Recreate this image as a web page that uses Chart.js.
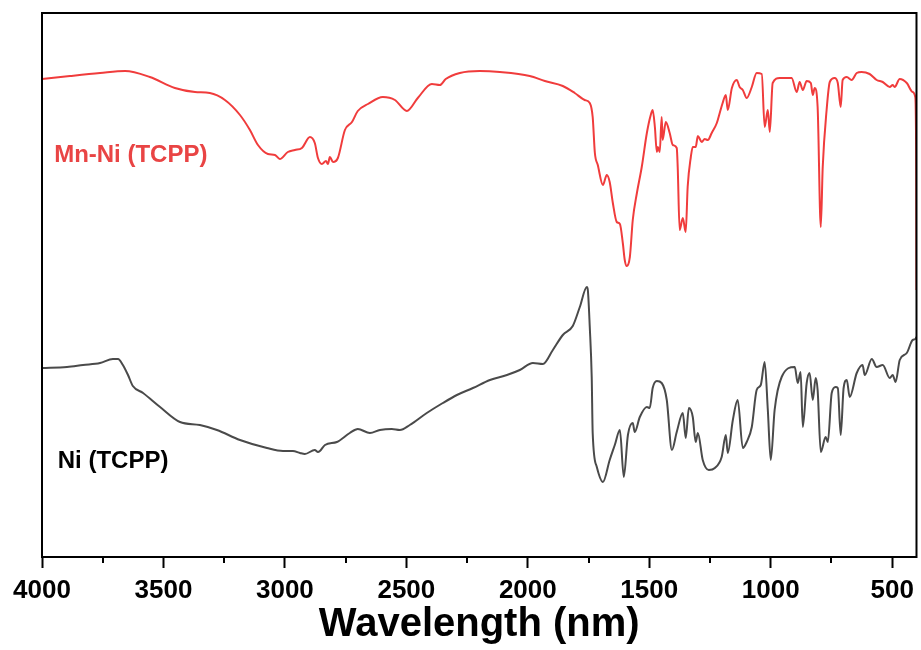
<!DOCTYPE html>
<html lang="en">
<head>
    <meta charset="UTF-8">
    <title>FTIR spectra</title>
    <style>
        html, body { margin: 0; padding: 0; background: #fff; }
        #wrap { width: 921px; height: 650px; }
    </style>
</head>
<body>
    <div id="wrap">
        <canvas id="ftirChart" width="921" height="650"></canvas>
    </div>

    <script src="https://cdn.jsdelivr.net/npm/chart.js@4/dist/chart.umd.min.js"></script>
    <script>
        // wavenumbers (x) and transmittance (a.u.)
        const mnNiX = [4000, 3885, 3761, 3658, 3556, 3453, 3370, 3309, 3247, 3185, 3144, 3111, 3070, 3041, 3021, 2988, 2959, 2930, 2897, 2877, 2864, 2848, 2831, 2823, 2815, 2802, 2782, 2753, 2724, 2700, 2658, 2597, 2547, 2498, 2453, 2395, 2362, 2338, 2280, 2198, 2115, 1992, 1930, 1856, 1807, 1766, 1745, 1733, 1724, 1712, 1691, 1675, 1663, 1650, 1634, 1621, 1609, 1601, 1593, 1580, 1568, 1551, 1531, 1510, 1494, 1486, 1477, 1469, 1465, 1457, 1449, 1445, 1432, 1416, 1403, 1387, 1383, 1375, 1362, 1350, 1342, 1329, 1321, 1309, 1300, 1284, 1272, 1259, 1243, 1222, 1210, 1198, 1185, 1177, 1160, 1140, 1128, 1115, 1099, 1078, 1058, 1037, 1025, 1012, 1004, 992, 963, 914, 893, 881, 868, 852, 835, 827, 819, 807, 794, 786, 770, 757, 737, 724, 712, 704, 687, 667, 646, 626, 593, 564, 539, 510, 498, 490, 469, 440, 416, 405, 401, 400];
        const mnNiY = [478, 481, 484, 486, 480, 469, 465, 464, 457, 442, 427, 412, 403, 402, 398, 405, 407, 409, 420, 414, 399, 393, 396, 393, 400, 395, 399, 427, 435, 446, 453, 460, 457, 446, 459, 473, 472, 478, 484, 486, 485, 481, 476, 471, 464, 457, 454, 440, 404, 392, 372, 382, 375, 354, 335, 333, 314, 297, 291, 300, 337, 364, 390, 424, 442, 447, 430, 405, 410, 405, 440, 417, 435, 424, 412, 409, 390, 327, 339, 325, 370, 400, 410, 410, 421, 415, 418, 417, 424, 434, 444, 454, 462, 447, 469, 477, 470, 467, 459, 470, 484, 483, 430, 447, 425, 474, 479, 479, 465, 475, 467, 476, 474, 462, 469, 450, 330, 390, 447, 475, 479, 474, 450, 477, 480, 477, 484, 485, 483, 477, 475, 470, 472, 470, 478, 474, 465, 460, 380, 267];

        const niX = [4000, 3897, 3831, 3761, 3708, 3687, 3667, 3646, 3626, 3584, 3514, 3432, 3350, 3280, 3185, 3074, 3008, 2967, 2938, 2918, 2877, 2864, 2856, 2835, 2786, 2733, 2700, 2650, 2609, 2560, 2527, 2486, 2416, 2350, 2292, 2226, 2156, 2086, 2033, 1979, 1938, 1897, 1856, 1815, 1786, 1757, 1753, 1745, 1737, 1733, 1716, 1691, 1663, 1642, 1621, 1605, 1588, 1568, 1560, 1539, 1510, 1498, 1486, 1469, 1449, 1428, 1407, 1387, 1362, 1350, 1337, 1321, 1309, 1300, 1280, 1255, 1230, 1202, 1185, 1177, 1156, 1136, 1115, 1099, 1078, 1058, 1041, 1025, 1012, 1000, 984, 955, 901, 889, 877, 868, 852, 840, 827, 815, 807, 794, 774, 765, 749, 733, 724, 712, 700, 687, 675, 646, 622, 613, 584, 564, 539, 510, 498, 486, 469, 440, 416, 405, 400];
        const niY = [189, 190, 192, 194, 198, 198, 192, 182, 171, 164, 150, 135, 132, 127, 117, 109, 106, 106, 104, 103, 107, 105, 106, 112, 115, 124, 128, 124, 127, 128, 127, 132, 144, 154, 162, 169, 177, 182, 187, 194, 193, 207, 222, 231, 250, 270, 267, 230, 180, 124, 90, 75, 97, 112, 127, 80, 122, 134, 125, 140, 150, 149, 169, 176, 174, 157, 107, 125, 144, 119, 149, 140, 115, 124, 97, 87, 89, 100, 122, 104, 137, 157, 109, 115, 130, 167, 172, 195, 147, 97, 147, 180, 190, 174, 185, 130, 174, 184, 157, 179, 167, 105, 120, 115, 164, 170, 169, 122, 169, 177, 160, 184, 192, 182, 198, 190, 192, 179, 182, 175, 197, 204, 217, 218, 220];

        const majorTicks = [4000, 3500, 3000, 2500, 2000, 1500, 1000, 500];
        const minorTicks = [3750, 3250, 2750, 2250, 1750, 1250, 750];

        const seriesNames = ['Mn-Ni (TCPP)', 'Ni (TCPP)'];

        function toPoints(xs, ys) {
            return xs.map((x, i) => ({ x: x, y: ys[i] }));
        }

        // frame, minor ticks and in-plot labels
        const decorPlugin = {
            id: 'decor',
            afterDatasetsDraw(chart) {
                const { ctx, chartArea: a, scales: { x, y } } = chart;
                ctx.save();
                ctx.strokeStyle = '#000';
                ctx.lineWidth = 2;
                ctx.strokeRect(a.left, a.top, a.right - a.left, a.bottom - a.top);

                minorTicks.forEach(v => {
                    const px = Math.round(x.getPixelForValue(v));
                    ctx.beginPath();
                    ctx.moveTo(px, a.bottom);
                    ctx.lineTo(px, a.bottom + 6);
                    ctx.stroke();
                });

                ctx.font = 'bold 24px "Liberation Sans", Arial, sans-serif';
                ctx.textBaseline = 'alphabetic';
                ctx.textAlign = 'left';
                ctx.fillStyle = '#E94444';
                ctx.fillText(seriesNames[0], x.getPixelForValue(3950), y.getPixelForValue(395));
                ctx.fillStyle = '#000';
                ctx.fillText(seriesNames[1], x.getPixelForValue(3935), y.getPixelForValue(89));
                ctx.restore();
            }
        };

        new Chart(document.getElementById('ftirChart').getContext('2d'), {
            type: 'line',
            data: {
                datasets: [{
                    label: seriesNames[0],
                    data: toPoints(mnNiX, mnNiY),
                    borderColor: '#F03C3C',
                    borderWidth: 2,
                    pointRadius: 0,
                    fill: false,
                    cubicInterpolationMode: 'monotone'
                }, {
                    label: seriesNames[1],
                    data: toPoints(niX, niY),
                    borderColor: '#4A4A4A',
                    borderWidth: 2,
                    pointRadius: 0,
                    fill: false,
                    cubicInterpolationMode: 'monotone'
                }]
            },
            options: {
                responsive: false,
                animation: false,
                devicePixelRatio: 1,
                layout: { padding: { left: 42, right: 4, top: 13, bottom: 0 } },
                plugins: {
                    legend: { display: false },
                    tooltip: { enabled: false }
                },
                scales: {
                    x: {
                        type: 'linear',
                        reverse: true,
                        min: 400,
                        max: 4000,
                        afterBuildTicks: (scale) => {
                            scale.ticks = majorTicks.map(v => ({ value: v }));
                        },
                        afterFit: (scale) => {
                            scale.height = 93;
                        },
                        border: { display: true, color: '#000', width: 2 },
                        grid: {
                            drawOnChartArea: false,
                            drawTicks: true,
                            tickLength: 11,
                            tickWidth: 2,
                            tickColor: '#000'
                        },
                        ticks: {
                            color: '#000',
                            padding: 7,
                            maxRotation: 0,
                            autoSkip: false,
                            callback: (v) => String(v),
                            font: { family: '"Liberation Sans", Arial, sans-serif', size: 26, weight: 'bold' }
                        },
                        title: {
                            display: true,
                            text: 'Wavelength (nm)',
                            color: '#000',
                            padding: { top: 0, bottom: 5 },
                            font: { family: '"Liberation Sans", Arial, sans-serif', size: 40, weight: 'bold', lineHeight: 1 }
                        }
                    },
                    y: {
                        display: false,
                        min: 0,
                        max: 544
                    }
                }
            },
            plugins: [decorPlugin]
        });
    </script>
</body>
</html>
